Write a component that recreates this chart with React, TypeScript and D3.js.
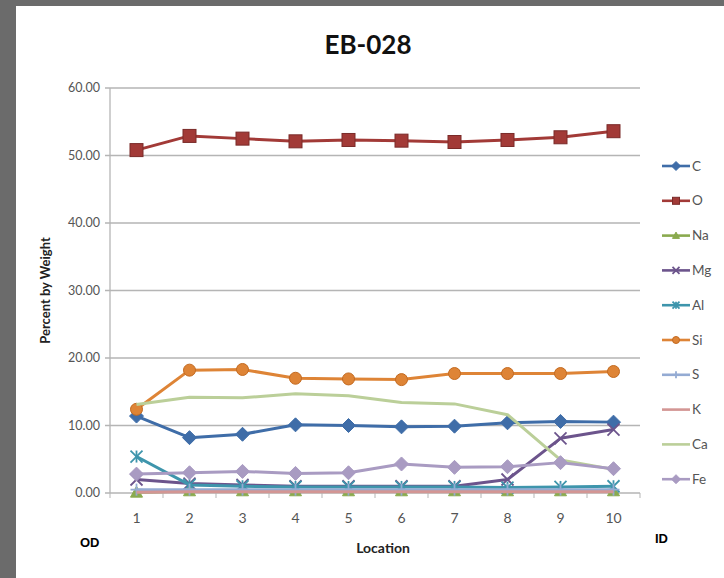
import React from "react";
import * as d3 from "d3";

const locations = [1, 2, 3, 4, 5, 6, 7, 8, 9, 10];
const yTicks = [0, 10, 20, 30, 40, 50, 60];

const C = [11.4, 8.2, 8.7, 10.1, 10.0, 9.8, 9.9, 10.4, 10.6, 10.5];
const O = [50.8, 52.9, 52.5, 52.1, 52.3, 52.2, 52.0, 52.3, 52.7, 53.6];
const Na = [0.1, 0.3, 0.3, 0.3, 0.3, 0.3, 0.3, 0.3, 0.3, 0.3];
const Mg = [2.0, 1.4, 1.2, 1.0, 1.0, 1.0, 1.0, 2.0, 8.1, 9.4];
const Al = [5.4, 1.2, 1.0, 0.9, 0.9, 0.9, 0.9, 0.8, 0.9, 1.0];
const Si = [12.4, 18.2, 18.3, 17.0, 16.9, 16.8, 17.7, 17.7, 17.7, 18.0];
const S = [0.5, 0.5, 0.5, 0.5, 0.5, 0.5, 0.5, 0.5, 0.5, 0.5];
const K = [0.1, 0.2, 0.2, 0.2, 0.2, 0.2, 0.2, 0.2, 0.2, 0.2];
const Ca = [13.1, 14.2, 14.1, 14.7, 14.4, 13.4, 13.2, 11.6, 4.9, 3.5];
const Fe = [2.8, 3.0, 3.2, 2.9, 3.0, 4.3, 3.8, 3.9, 4.5, 3.6];

const seriesNames = ["C", "O", "Na", "Mg", "Al", "Si", "S", "K", "Ca", "Fe"];
const seriesValues = [C, O, Na, Mg, Al, Si, S, K, Ca, Fe];
const seriesColors = ["#3F6DA8", "#A23A37", "#8AAA4E", "#6C548C", "#3E95AC", "#DE8436", "#94ABD3", "#D39694", "#BBCF99", "#A99BC2"];
const seriesMarkers = ["diamond", "square", "triangle", "x", "star", "circle", "plus", "none", "none", "diamond"];

const W = 724;
const H = 578;
const plotL = 110, plotR = 640, plotT = 88, plotB = 493;
const font = "Lato, 'Open Sans', sans-serif";

function Marker({ type, x, y, color, size }: { type: string; x: number; y: number; color: string; size: number }) {
  const s = size;
  if (type === "diamond") {
    const h = s / 2 + 1;
    return <path d={`M${x},${y - h}L${x + h},${y}L${x},${y + h}L${x - h},${y}Z`} fill={color} stroke={color} strokeWidth={1} />;
  }
  if (type === "square") {
    return <rect x={x - s / 2} y={y - s / 2} width={s} height={s} fill={color} stroke="#7a2a28" strokeWidth={1} />;
  }
  if (type === "triangle") {
    const h = s / 2;
    return <path d={`M${x},${y - h}L${x + h},${y + h * 0.8}L${x - h},${y + h * 0.8}Z`} fill={color} stroke={color} />;
  }
  if (type === "circle") {
    return <circle cx={x} cy={y} r={s / 2} fill={color} stroke="#c36a20" strokeWidth={1} />;
  }
  if (type === "x" || type === "star") {
    const h = s / 2;
    return (
      <g stroke={color} strokeWidth={1.8}>
        <line x1={x - h} y1={y - h} x2={x + h} y2={y + h} />
        <line x1={x - h} y1={y + h} x2={x + h} y2={y - h} />
        {type === "star" && <line x1={x} y1={y - h} x2={x} y2={y + h} />}
      </g>
    );
  }
  if (type === "plus") {
    const h = s / 2;
    return (
      <g stroke={color} strokeWidth={1.8}>
        <line x1={x - h} y1={y} x2={x + h} y2={y} />
        <line x1={x} y1={y - h} x2={x} y2={y + h} />
      </g>
    );
  }
  return null;
}

export default function App() {
  const x = d3.scaleBand<number>().domain(locations).range([plotL, plotR]).padding(0);
  const y = d3.scaleLinear().domain([0, 60]).range([plotB, plotT]);
  const cx = (d: number) => (x(d) as number) + x.bandwidth() / 2;
  const line = d3
    .line<number>()
    .x((_, i) => cx(locations[i]))
    .y((v) => y(v));

  const legendX = 662;
  const legendY0 = 166;
  const legendStep = 34.8;

  return (
    <svg width={W} height={H} style={{ position: "absolute", left: 0, top: 0 }} fontFamily={font}>
      <rect x={0} y={0} width={W} height={H} fill="#6b6b6b" />
      <rect x={16} y={6} width={W - 16} height={H - 6} fill="#ffffff" />

      <text x={368} y={54} textAnchor="middle" fontSize={26} fontWeight="bold" fill="#111">EB-028</text>

      {yTicks.map((t) => (
        <g key={t}>
          <line x1={plotL - 5} x2={plotR} y1={y(t)} y2={y(t)} stroke="#b5b5b5" strokeWidth={1.3} />
          <text x={100} y={y(t) + 4} textAnchor="end" fontSize={12.5} fill="#555">{t.toFixed(2)}</text>
        </g>
      ))}
      <line x1={plotL} x2={plotL} y1={plotT} y2={plotB} stroke="#b5b5b5" strokeWidth={1.3} />
      {locations.map((d) => (
        <g key={d}>
          <line x1={(x(d) as number) + x.bandwidth()} x2={(x(d) as number) + x.bandwidth()} y1={plotB} y2={plotB + 5} stroke="#b5b5b5" />
          <text x={cx(d)} y={plotB + 30} textAnchor="middle" fontSize={14} fill="#555">{d}</text>
        </g>
      ))}
      <line x1={plotL} x2={plotL} y1={plotB} y2={plotB + 5} stroke="#b5b5b5" />

      <text transform={`translate(50,${(plotT + plotB) / 2}) rotate(-90)`} textAnchor="middle" fontSize={13} fontWeight="bold" fill="#222">Percent by Weight</text>
      <text x={383} y={553} textAnchor="middle" fontSize={14} fontWeight="bold" fill="#222">Location</text>

      <text x={80} y={547} fontSize={13} fontWeight="bold" fill="#000" fontFamily="'Liberation Sans', Arial, sans-serif">OD</text>
      <text x={655} y={543} fontSize={13} fontWeight="bold" fill="#000" fontFamily="'Liberation Sans', Arial, sans-serif">ID</text>

      {seriesNames.map((name, si) => (
        <g key={name}>
          <path d={line(seriesValues[si])!} fill="none" stroke={seriesColors[si]} strokeWidth={3} strokeLinejoin="round" />
          {seriesValues[si].map((v, i) => (
            <Marker key={i} type={seriesMarkers[si]} x={cx(locations[i])} y={y(v)} color={seriesColors[si]} size={name === "O" ? 13 : 12} />
          ))}
        </g>
      ))}

      {seriesNames.map((name, si) => {
        const ly = legendY0 + si * legendStep;
        return (
          <g key={name}>
            <line x1={legendX} x2={legendX + 28} y1={ly} y2={ly} stroke={seriesColors[si]} strokeWidth={2.6} />
            <Marker type={seriesMarkers[si]} x={legendX + 14} y={ly} color={seriesColors[si]} size={7} />
            <text x={legendX + 30} y={ly + 4.5} fontSize={13.5} fill="#555">{name}</text>
          </g>
        );
      })}
    </svg>
  );
}
